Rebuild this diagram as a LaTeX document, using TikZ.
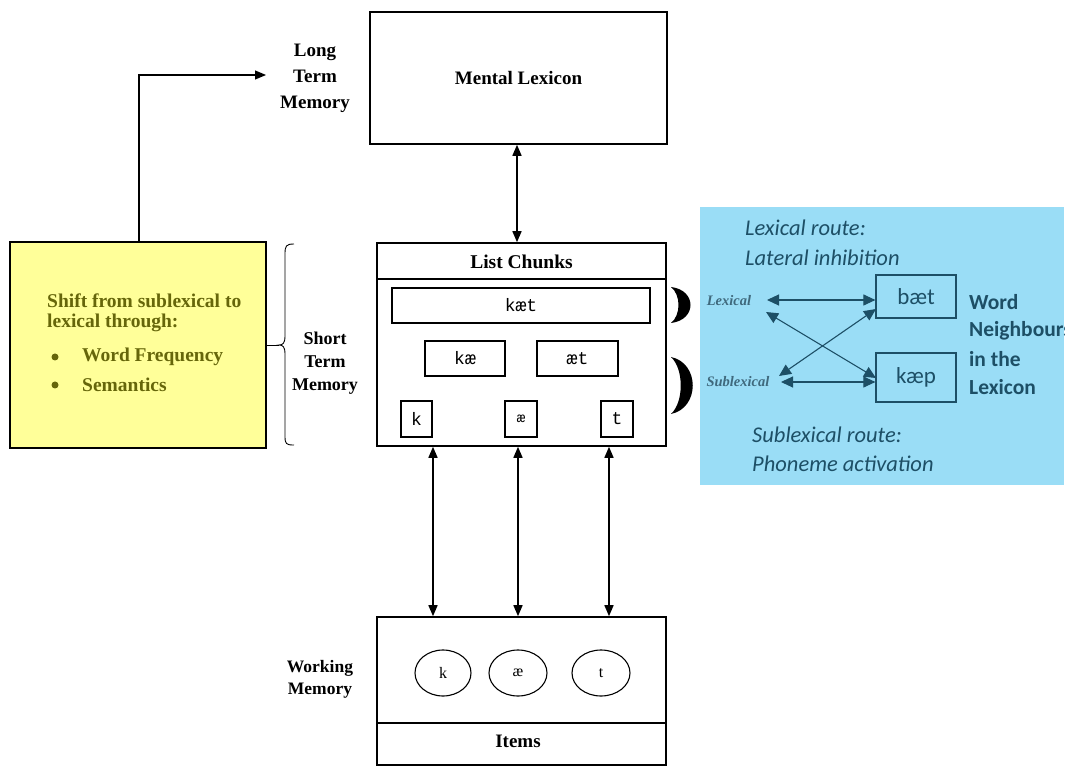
\documentclass[tikz,border=0pt]{standalone}
\usepackage{fontspec}
\setmainfont{Liberation Serif}
\setmonofont{Liberation Mono}
\newfontfamily\calfont{Carlito}
\usetikzlibrary{arrows.meta,shapes.geometric}
\definecolor{memyellow}{HTML}{FFFF99}
\definecolor{olivetext}{HTML}{66660A}
\definecolor{routeblue}{HTML}{9ADDF6}
\definecolor{routeink}{HTML}{1D4F66}
\tikzset{
  blk/.style={draw=black, line width=1.6pt},
  inner/.style={draw=black, line width=1.4pt, inner sep=0pt},
  lbl/.style={font=\fontsize{18}{23}\selectfont\bfseries, align=center},
  mono/.style={font=\fontsize{18}{20}\selectfont\ttfamily},
  dbl/.style={line width=1.6pt, {Triangle[length=11pt,width=9pt]}-{Triangle[length=11pt,width=9pt]}},
  rdbl/.style={draw=routeink, line width=1.1pt, {Triangle[length=12pt,width=11pt]}-{Triangle[length=12pt,width=11pt]}},
  ytext/.style={text=olivetext, font=\fontsize{19.5}{21}\selectfont\bfseries, anchor=west, inner sep=0pt},
  ybullet/.style={fill=olivetext, circle, minimum size=7pt, inner sep=0pt},
  rtext/.style={text=routeink, font=\fontsize{22.5}{24}\selectfont\calfont\itshape, anchor=west, inner sep=0pt},
  wtext/.style={text=routeink, font=\fontsize{21.5}{24}\selectfont\calfont\bfseries, anchor=west, inner sep=0pt},
  tag/.style={text=routeink!85, font=\fontsize{14.5}{16}\selectfont\bfseries\itshape, inner sep=0pt},
  itemring/.style={draw, line width=1.1pt, ellipse, minimum height=46pt, inner sep=0pt, font=\fontsize{16}{18}\selectfont}
}
\begin{document}
\begin{tikzpicture}[x=1pt, y=-1pt]
\useasboundingbox (0,0) rectangle (1069,767);

% long term memory
\node[blk, minimum width=297pt, minimum height=132pt] (lex) at (518.5,78) {};
\node[lbl, font=\fontsize{19}{23}\selectfont\bfseries] at (lex.center) {Mental Lexicon};
\node[lbl, font=\fontsize{19}{26}\selectfont\bfseries] (ltm) at (315,78) {Long\\Term\\Memory};

% short term memory: list chunks
\node[blk, minimum width=289pt, minimum height=203pt] (stm) at (521.5,344.5) {};
\draw[line width=1.4pt] (377,279) -- (666,279);
\node[lbl, font=\fontsize{19.5}{23}\selectfont\bfseries] (chunks) at (521.5,262) {List Chunks};
\node[inner, minimum width=258pt, minimum height=35pt, mono] (kaet) at (521,305.5) {kæt};
\node[inner, minimum width=80pt, minimum height=35pt, mono] (kae) at (465,358.5) {kæ};
\node[inner, minimum width=81pt, minimum height=35pt, mono] (aet) at (577.5,358.5) {æt};
\node[inner, minimum width=31pt, minimum height=36pt, mono] (k1) at (416.5,419) {k};
\node[inner, minimum width=32pt, minimum height=36pt, mono, font=\fontsize{14}{15}\selectfont\ttfamily] (ae1) at (521,419) {æ};
\node[inner, minimum width=32pt, minimum height=36pt, mono] (t1) at (617,419) {t};

% crescents beside the chunks
\fill[black] (671,287) .. controls (697,290) and (697,320) .. (671,323)
  .. controls (681,315) and (681,295) .. cycle;
\fill[black] (671,357) .. controls (700,363) and (700,408) .. (671,414)
  .. controls (684,402) and (684,369) .. cycle;

% short term memory label and brace
\node[lbl] (stmlab) at (325,363) {Short\\Term\\Memory};
\draw[line width=0.9pt] (294,244) .. controls (286,244) and (285,246) .. (285,254)
  -- (285,336) .. controls (285,343) and (283,345) .. (279,345)
  .. controls (283,345) and (285,347) .. (285,354)
  -- (285,436) .. controls (285,444) and (286,445) .. (294,445);
\coordinate (bracetip) at (279,345);

% yellow note
\node[blk, fill=memyellow, minimum width=256pt, minimum height=206pt] (note) at (138,345) {};
\node[ytext] at (47,301) {Shift from sublexical to};
\node[ytext] at (47,323) {lexical through:};
\node[ybullet] at (55,357) {};
\node[ytext] at (82,357) {Word Frequency};
\node[ybullet] at (55,385) {};
\node[ytext] at (82,385) {Semantics};
\draw[line width=0.9pt] (note.east) -- (bracetip);

% feedback to long term memory
\coordinate (ltmin) at (266,75);
\draw[line width=1.1pt, -{Triangle[length=11pt,width=9pt]}] (note.north -| 139,0) |- (ltmin);

% working memory
\node[blk, minimum width=289pt, minimum height=148pt] (wm) at (521.5,691) {};
\draw[line width=1.4pt] (377,723) -- (666,723);
\node[lbl, font=\fontsize{19}{23}\selectfont\bfseries] (items) at (518,741) {Items};
\node[itemring, minimum width=56pt] (k2) at (443,673) {k};
\node[itemring, minimum width=58pt] (ae2) at (518,673) {æ};
\node[itemring, minimum width=58pt] (t2) at (601,673) {t};
\node[lbl, font=\fontsize{17.5}{22}\selectfont\bfseries] (wmlab) at (320,679) {Working\\Memory};

% connections between stores
\draw[dbl] (lex.south -| 517,0) -- (stm.north -| 517,0);
\draw[dbl] (stm.south -| 433,0) -- (wm.north -| 433,0);
\draw[dbl] (stm.south -| 518,0) -- (wm.north -| 518,0);
\draw[dbl] (stm.south -| 609,0) -- (wm.north -| 609,0);

% routes panel
\begin{scope}
\clip (700,207) rectangle (1064,485);
\fill[routeblue] (700,207) rectangle (1064,485);
\node[rtext] at (745,228) {Lexical route:};
\node[rtext] at (745,258) {Lateral inhibition};
\node[rtext] at (752,435) {Sublexical route:};
\node[rtext] at (752,464) {Phoneme activation};
\node[tag] (lexr) at (729,301) {Lexical};
\node[tag] (subr) at (738,382) {Sublexical};
\node[draw=routeink, line width=1.2pt, minimum width=80pt, minimum height=43pt, text=routeink, font=\fontsize{23}{24}\selectfont\calfont] (baet) at (916,296.5) {bæt};
\node[draw=routeink, line width=1.2pt, minimum width=80pt, minimum height=49pt, text=routeink, font=\fontsize{23}{24}\selectfont\calfont] (kaep) at (916,377.5) {kæp};
\node[wtext] at (969,302) {Word};
\node[wtext] at (969,331) {Neighbours};
\node[wtext] at (969,359) {in the};
\node[wtext] at (969,387) {Lexicon};
\coordinate (lexa) at (767,300);
\coordinate (lexb) at (766,312);
\coordinate (suba) at (781,382);
\coordinate (subb) at (779,376);
\draw[rdbl] (lexa) -- (baet.west |- lexa);
\draw[rdbl] (suba) -- (kaep.west |- suba);
\draw[rdbl] (lexb) -- (876,378);
\draw[rdbl] (subb) -- (876,309);
\end{scope}
\end{tikzpicture}
\end{document}
